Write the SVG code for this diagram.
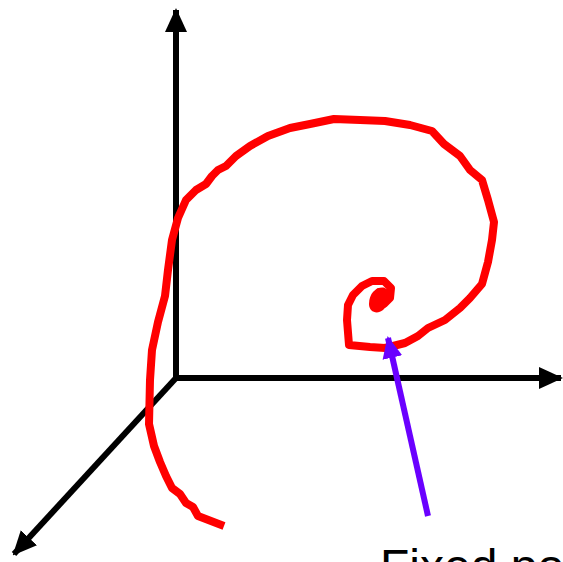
<svg xmlns="http://www.w3.org/2000/svg" width="563" height="562" viewBox="0 0 563 562">
<style>
.axis{stroke:#000;stroke-width:6;fill:none}
.curve{stroke:#ff0000;stroke-width:8;fill:none;stroke-linejoin:round;stroke-linecap:butt}
.ptr{stroke:#6a00ff;stroke-width:6;fill:none}
.lbl{font-family:"Liberation Sans",Arial,sans-serif;font-size:48px;fill:#000}
</style>
<defs>
<marker id="ah" markerUnits="userSpaceOnUse" markerWidth="24" markerHeight="24" viewBox="0 0 24 24" refX="22" refY="12" orient="auto">
<path d="M0,1 L24,12 L0,23 Z" fill="#000"/>
</marker>
<marker id="ahp" markerUnits="userSpaceOnUse" markerWidth="22" markerHeight="22" viewBox="0 0 22 22" refX="20" refY="11" orient="auto">
<path d="M0,1 L22,11 L0,21 Z" fill="#6a00ff"/>
</marker>
</defs>
<g id="connectors">
<line class="axis" x1="176" y1="378" x2="176" y2="10" marker-end="url(#ah)"/>
<line class="axis" x1="176" y1="378" x2="561" y2="378" marker-end="url(#ah)"/>
<line class="axis" x1="176" y1="378" x2="14" y2="554" marker-end="url(#ah)"/>
</g>
<g id="spiral">
<path class="curve" d="M224,526 L198,516 L193,507 L186,503 L180,494 L172,488 L166,476 L160,462 L154,446 L149,424 L150,380 L152,350 L158,322 L165,296 L168,270 L172,240 L178,218 L186,200 L196,190 L206,184 L212,176 L218,170 L226,166 L236,156 L250,146 L268,136 L290,128 L310,124 L334,119 L360,120 L385,121 L410,125 L432,131 L444,144 L460,156 L470,170 L482,180 L488,200 L494,222 L492,240 L488,262 L482,284 L470,298 L460,308 L445,320 L428,328 L418,336 L405,343 L385,348 L370,347 L349,345 L347,320 L348,305 L353,295 L362,286 L372,281 L384,281 L391,288 L390,298 L384,304 L377,306 L374,300 L379,292 L385,293 L383,300 L377,304"/>
<path d="M369,304 C369,292 378,286 385,288 C392,292 390,304 383,310 C377,315 369,312 369,304 Z" fill="#ff0000"/>
</g>
<g id="pointer">
<line class="ptr" x1="428" y1="516" x2="388" y2="338" marker-end="url(#ahp)"/>
</g>
<g id="label">
<text class="lbl" x="380" y="583">Fixed point</text>
</g>
</svg>
